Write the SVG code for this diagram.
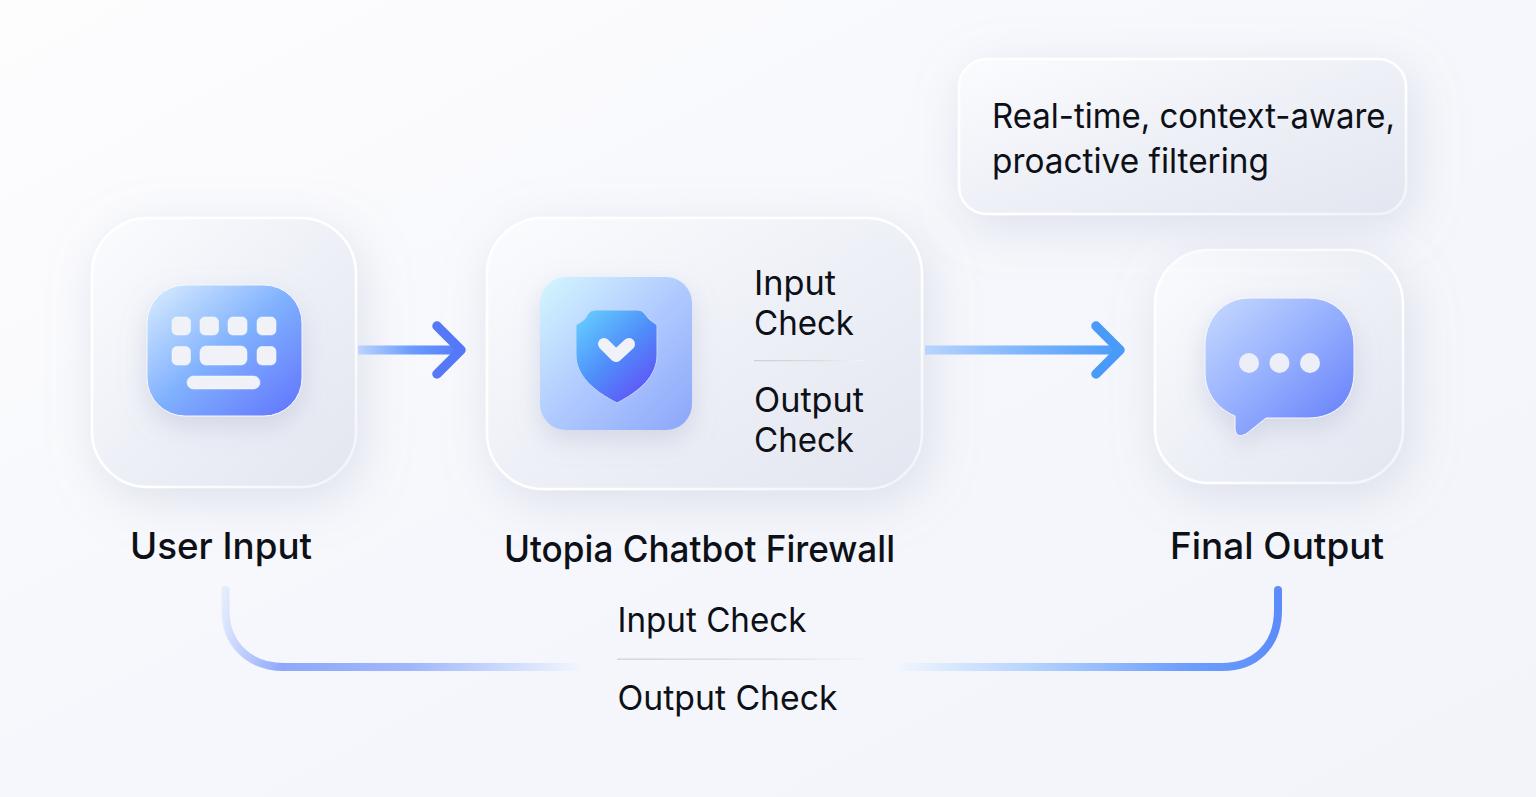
<svg xmlns="http://www.w3.org/2000/svg" width="1536" height="797" viewBox="0 0 1536 797">
<style>
.t{font-family:Inter,"Liberation Sans",sans-serif;fill:#0d1017}
.card{stroke:url(#edge);stroke-width:2.500;fill:url(#glass);filter:url(#cardShadow)}
.cap{font-size:37px;font-weight:500}
.body{font-size:34px}
.key{fill:#f0f2f8;stroke:#fff;stroke-width:.5}
</style>
<defs>
<linearGradient id="bg" x1="0" y1="0" x2="1" y2="1"><stop offset="0" stop-color="#fdfdfe"/><stop offset=".5" stop-color="#f6f7fc"/><stop offset="1" stop-color="#f3f4f9"/></linearGradient>
<linearGradient id="glass" x1="0" y1="0" x2="1" y2="1"><stop offset="0" stop-color="#fbfcfe"/><stop offset=".5" stop-color="#eef0f7"/><stop offset="1" stop-color="#e3e6f0"/></linearGradient>
<linearGradient id="edge" x1="0" y1="0" x2="1" y2="1"><stop offset="0" stop-color="#fff"/><stop offset=".6" stop-color="#fff"/><stop offset="1" stop-color="#f1f3f9"/></linearGradient>
<linearGradient id="kb" x1="0" y1="0" x2="1" y2="1"><stop offset="0" stop-color="#dbeefe"/><stop offset=".5" stop-color="#7fb0fe"/><stop offset="1" stop-color="#6272fe"/></linearGradient>
<linearGradient id="sq" x1="0" y1="0" x2="1" y2="1"><stop offset="0" stop-color="#d4f6fe"/><stop offset=".5" stop-color="#b0caff"/><stop offset="1" stop-color="#8ca6fb"/></linearGradient>
<linearGradient id="sh" x1="0.1" y1="0.1" x2="0.8" y2="0.95"><stop offset="0" stop-color="#62c6fe"/><stop offset=".5" stop-color="#4f8efa"/><stop offset="1" stop-color="#6152f6"/></linearGradient>
<linearGradient id="bub" x1="0" y1="0" x2="1" y2="1"><stop offset="0" stop-color="#c8dafe"/><stop offset=".5" stop-color="#94aefe"/><stop offset="1" stop-color="#6079fa"/></linearGradient>
<linearGradient id="a1" gradientUnits="userSpaceOnUse" x1="358" y1="0" x2="465" y2="0"><stop offset="0" stop-color="#bcd4fd"/><stop offset=".5" stop-color="#6b9cfd"/><stop offset="1" stop-color="#5478f8"/></linearGradient>
<linearGradient id="a2" gradientUnits="userSpaceOnUse" x1="925" y1="0" x2="1124" y2="0"><stop offset="0" stop-color="#b8d4fd"/><stop offset=".5" stop-color="#7db5fd"/><stop offset="1" stop-color="#4a9afa"/></linearGradient>
<linearGradient id="l1" gradientUnits="userSpaceOnUse" x1="225" y1="590" x2="578" y2="670"><stop offset="0" stop-color="#e4ecfd"/><stop offset=".2" stop-color="#8fa8fb"/><stop offset=".55" stop-color="#9fb8fc"/><stop offset="1" stop-color="#f2f5fe"/></linearGradient>
<linearGradient id="l2" gradientUnits="userSpaceOnUse" x1="895" y1="0" x2="1280" y2="0"><stop offset="0" stop-color="#f2f6fe"/><stop offset=".35" stop-color="#b5d4fd"/><stop offset=".75" stop-color="#6f9ffc"/><stop offset="1" stop-color="#5c8cfb"/></linearGradient>
<linearGradient id="div" x1="0" x2="1" y1="0" y2="0"><stop offset="0" stop-color="#cfd0d6"/><stop offset=".6" stop-color="#dcdde2"/><stop offset="1" stop-color="#f4f5f9"/></linearGradient>
<filter id="cardShadow" filterUnits="userSpaceOnUse" x="0" y="0" width="1536" height="797"><feDropShadow dx="6" dy="12" stdDeviation="24" flood-color="#98a2c2" flood-opacity=".28"/></filter>
<filter id="iconShadow" filterUnits="userSpaceOnUse" x="0" y="0" width="1536" height="797"><feDropShadow dx="0" dy="10" stdDeviation="13" flood-color="#8d98bb" flood-opacity=".28"/></filter>
</defs>
<rect width="1536" height="797" fill="url(#bg)"/>
<g id="node-user-input">
<rect class="card" x="92" y="218" width="264" height="269" rx="56"/>
<g filter="url(#iconShadow)"><rect x="147" y="285" width="155" height="131" rx="38" fill="url(#kb)" stroke="#f4f7fe" stroke-width="1"/></g>
<rect class="key" x="172" y="317" width="18.500" height="18" rx="5"/>
<rect class="key" x="200" y="317" width="18.500" height="18" rx="5"/>
<rect class="key" x="228" y="317" width="19" height="18" rx="5"/>
<rect class="key" x="257" y="317" width="19" height="18" rx="5"/>
<rect class="key" x="172" y="346.500" width="18.500" height="18.500" rx="5"/>
<rect class="key" x="200" y="346" width="47" height="19" rx="6"/>
<rect class="key" x="257" y="346.500" width="19" height="18.500" rx="5"/>
<rect class="key" x="187" y="376" width="73" height="13" rx="6.500"/>
<text class="t cap" x="130" y="559" textLength="182" lengthAdjust="spacingAndGlyphs">User Input</text>
</g>
<g id="node-firewall">
<rect class="card" x="487" y="218" width="435" height="271" rx="56"/>
<g filter="url(#iconShadow)"><rect x="540" y="277" width="152" height="153" rx="26" fill="url(#sq)"/></g>
<path d="M591 310H638Q642 310 645 314Q649 320 653 322L657 325V355C657 376 640 391 617 403C594 391 576 376 576 355V325L581 322Q585 320 588 314Q590 310 595 310Z" fill="url(#sh)" stroke="#c4d6fc" stroke-width="1"/>
<path d="M604 344L616 356L629 344" fill="none" stroke="#f0f2f8" stroke-width="12" stroke-linecap="round" stroke-linejoin="round"/>
<text class="t body" x="754" y="295" textLength="82" lengthAdjust="spacingAndGlyphs">Input</text>
<text class="t body" x="754" y="335" textLength="100" lengthAdjust="spacingAndGlyphs">Check</text>
<rect x="754" y="360" width="110" height="1.300" fill="url(#div)"/>
<text class="t body" x="754" y="412" textLength="110" lengthAdjust="spacingAndGlyphs">Output</text>
<text class="t body" x="754" y="452" textLength="100" lengthAdjust="spacingAndGlyphs">Check</text>
<text class="t cap" x="504" y="562" textLength="391" lengthAdjust="spacingAndGlyphs">Utopia Chatbot Firewall</text>
</g>
<g id="node-final-output">
<rect class="card" x="1155" y="250" width="248" height="233" rx="54"/>
<g filter="url(#iconShadow)"><path d="M1250 298H1308C1338 298 1354 320 1354 346V372C1354 400 1336 418 1308 418H1266L1246 434Q1236 439 1235 429V416C1216 408 1205 392 1205 372V346C1205 320 1222 298 1250 298Z" fill="url(#bub)" stroke="#f4f7fe" stroke-width="1"/></g>
<circle cx="1249" cy="363" r="10" fill="#eceff8"/>
<circle cx="1279.500" cy="363" r="10" fill="#eceff8"/>
<circle cx="1310" cy="363" r="10" fill="#eceff8"/>
<text class="t cap" x="1170" y="559" textLength="214" lengthAdjust="spacingAndGlyphs">Final Output</text>
</g>
<g id="node-note">
<rect class="card" x="959" y="59" width="447" height="155" rx="28"/>
<text class="t body" x="992" y="128" textLength="403" lengthAdjust="spacingAndGlyphs">Real-time, context-aware,</text>
<text class="t body" x="992" y="173" textLength="277" lengthAdjust="spacingAndGlyphs">proactive filtering</text>
</g>
<g id="node-checks">
<text class="t body" x="617.500" y="632" textLength="189" lengthAdjust="spacingAndGlyphs">Input Check</text>
<rect x="617" y="658.500" width="255" height="1.300" fill="url(#div)"/>
<text class="t body" x="617.500" y="710" textLength="220" lengthAdjust="spacingAndGlyphs">Output Check</text>
</g>
<g id="connectors" fill="none" stroke-linecap="round" stroke-linejoin="round">
<path d="M358 350H460" stroke="url(#a1)" stroke-width="9" stroke-linecap="butt"/>
<path d="M437 326L461 350L437 374" stroke="#5478f8" stroke-width="9.500"/>
<path d="M925 350H1118" stroke="url(#a2)" stroke-width="9" stroke-linecap="butt"/>
<path d="M1096 326L1120 350L1096 374" stroke="#4a9afa" stroke-width="9.500"/>
<path d="M225.500 590V610C225.500 645 250 667 284 667H578" stroke="url(#l1)" stroke-width="8"/>
<path d="M895 667H1222C1256 667 1278 645 1278 610V590" stroke="url(#l2)" stroke-width="8"/>
</g>
</svg>
